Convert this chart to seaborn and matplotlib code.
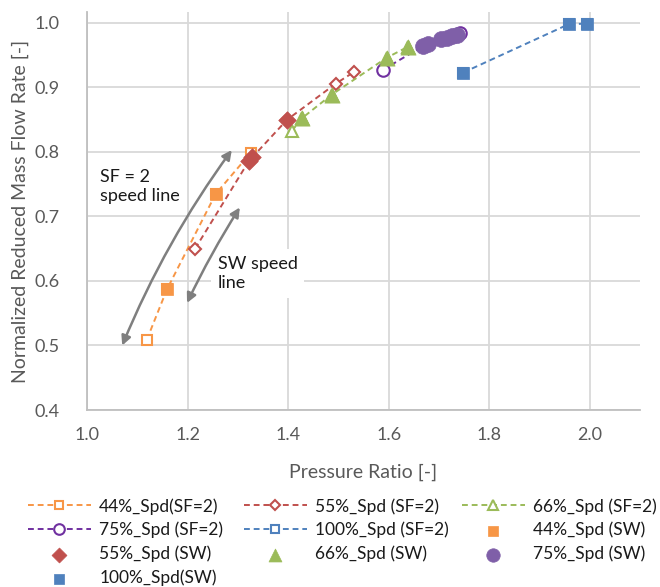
import matplotlib
matplotlib.use("Agg")
import matplotlib.pyplot as plt
import seaborn as sns
import pandas as pd

# ---- data ----
sf44_x = [1.119, 1.159, 1.256, 1.326]
sf44_y = [0.509, 0.587, 0.735, 0.799]
sf55_x = [1.215, 1.322, 1.398, 1.495, 1.531]
sf55_y = [0.650, 0.786, 0.850, 0.906, 0.924]
sf66_x = [1.408, 1.427, 1.487, 1.596, 1.638]
sf66_y = [0.833, 0.852, 0.889, 0.946, 0.963]
sf75_x = [1.588, 1.668, 1.704, 1.742]
sf75_y = [0.927, 0.964, 0.975, 0.984]
sf100_x = [1.748, 1.958, 1.994]
sf100_y = [0.923, 0.998, 0.999]

sw44_x = [1.159, 1.256]
sw44_y = [0.587, 0.735]
sw55_x = [1.322, 1.329, 1.398]
sw55_y = [0.786, 0.792, 0.850]
sw66_x = [1.427, 1.487, 1.596, 1.638]
sw66_y = [0.852, 0.889, 0.946, 0.963]
sw75_x = [1.668, 1.678, 1.704, 1.716, 1.726, 1.736]
sw75_y = [0.964, 0.968, 0.975, 0.977, 0.980, 0.981]
sw100_x = [1.748, 1.958, 1.994]
sw100_y = [0.923, 0.998, 0.999]

x_ticks = [1.0, 1.2, 1.4, 1.6, 1.8, 2.0]
y_ticks = [0.4, 0.5, 0.6, 0.7, 0.8, 0.9, 1.0]

ORANGE = "#F79646"
RED = "#C0504D"
GREEN = "#9BBB59"
PURPLE = "#7F5FA8"
PURPLE_E = "#7030A0"
BLUE = "#4F81BD"
TXT = "#595959"

sns.set_theme(style="whitegrid")
plt.rcParams["font.family"] = ["Lato", "DejaVu Sans"]

fig = plt.figure(figsize=(6.6, 5.87), dpi=100)
W, H = 660, 587
ax = fig.add_axes([87 / W, 1 - 410 / H, (640 - 87) / W, (410 - 12) / H])

handles = {}

def sf_line(xs, ys, color, marker, ms, key, label, ec=None):
    df = pd.DataFrame({"x": xs, "y": ys})
    sns.lineplot(data=df, x="x", y="y", ax=ax, sort=False, estimator=None,
                 color=color, linestyle=(0, (3, 2)), linewidth=1.4,
                 marker=marker, markersize=ms, markerfacecolor="white",
                 markeredgecolor=ec or color, markeredgewidth=1.5,
                 label=label, legend=False, zorder=3)
    handles[key] = ax.lines[-1]

def sw_pts(xs, ys, color, marker, s, key, label):
    df = pd.DataFrame({"x": xs, "y": ys})
    sns.scatterplot(data=df, x="x", y="y", ax=ax, color=color, marker=marker,
                    s=s, edgecolor=color, linewidth=0.5, label=label,
                    legend=False, zorder=4)
    handles[key] = ax.collections[-1]

sf_line(sf44_x, sf44_y, ORANGE, "s", 7, "sf44", "44%_Spd(SF=2)")
sf_line(sf55_x, sf55_y, RED, "D", 6.5, "sf55", "55%_Spd (SF=2)")
sf_line(sf66_x, sf66_y, GREEN, "^", 9, "sf66", "66%_Spd (SF=2)")
sf_line(sf75_x, sf75_y, PURPLE_E, "o", 9, "sf75", "75%_Spd (SF=2)")
sf_line(sf100_x, sf100_y, BLUE, "s", 7, "sf100", "100%_Spd (SF=2)")

sw_pts(sw44_x, sw44_y, ORANGE, "s", 70, "sw44", "44%_Spd (SW)")
sw_pts(sw55_x, sw55_y, RED, "D", 80, "sw55", "55%_Spd (SW)")
sw_pts(sw66_x, sw66_y, GREEN, "^", 120, "sw66", "66%_Spd (SW)")
sw_pts(sw75_x, sw75_y, PURPLE, "o", 130, "sw75", "75%_Spd (SW)")
sw_pts(sw100_x, sw100_y, BLUE, "s", 70, "sw100", "100%_Spd(SW)")

ax.set_xlim(1.0, 2.1)
ax.set_ylim(0.4, 1.017)
ax.set_xticks(x_ticks)
ax.set_yticks(y_ticks)
ax.set_xticklabels([f"{v:.1f}" for v in x_ticks])
ax.set_yticklabels([f"{v:.1f}" for v in y_ticks])
ax.grid(True, color="#D9D9D9", linewidth=1.3)
ax.set_facecolor("white")
for s in ["top", "right"]:
    ax.spines[s].set_visible(False)
for s in ["left", "bottom"]:
    ax.spines[s].set_visible(True)
    ax.spines[s].set_color("#BFBFBF")
    ax.spines[s].set_linewidth(1.3)
ax.tick_params(axis="both", length=0, labelsize=13, colors=TXT)
ax.tick_params(axis="y", pad=20)
ax.tick_params(axis="x", pad=12)
ax.set_xlabel("Pressure Ratio [-]", fontsize=14, color=TXT, labelpad=15)
ax.set_ylabel("Normalized Reduced Mass Flow Rate [-]", fontsize=14, color=TXT, labelpad=4)

# annotations
arrow_kw = dict(arrowstyle="<|-|>", color="#7F7F7F", lw=1.8, mutation_scale=14,
                shrinkA=0, shrinkB=0)
ax.annotate("", xy=(1.288, 0.803), xytext=(1.070, 0.500),
            arrowprops=dict(connectionstyle="arc3,rad=-0.06", **arrow_kw), zorder=5)
ax.annotate("", xy=(1.304, 0.714), xytext=(1.199, 0.566),
            arrowprops=dict(connectionstyle="arc3,rad=-0.03", **arrow_kw), zorder=5)
ax.text(1.026, 0.746, "SF = 2\nspeed line", fontsize=13, color="#1a1a1a",
        va="center", ha="left", linespacing=1.25, zorder=6)
ax.text(1.260, 0.612, "SW speed\nline", fontsize=13, color="#1a1a1a",
        va="center", ha="left", linespacing=1.25, zorder=2,
        bbox=dict(facecolor="white", edgecolor="none", pad=5))

columns = [
    (28, ["sf44", "sf75", "sw55", "sw100"]),
    (244, ["sf55", "sf100", "sw66"]),
    (462, ["sf66", "sw44", "sw75"]),
]
for x0, keys in columns:
    hs = [handles[k] for k in keys]
    ls = [h.get_label() for h in hs]
    fig.legend(hs, ls, loc="upper left", bbox_to_anchor=(x0 / W, 1 - 498 / H),
               ncol=1, frameon=False, fontsize=12.5, handlelength=3.6,
               handletextpad=0.5, labelspacing=0.42, markerscale=0.85,
               labelcolor="#1a1a1a", borderaxespad=0, borderpad=0)

fig.savefig("out.png", dpi=100)
